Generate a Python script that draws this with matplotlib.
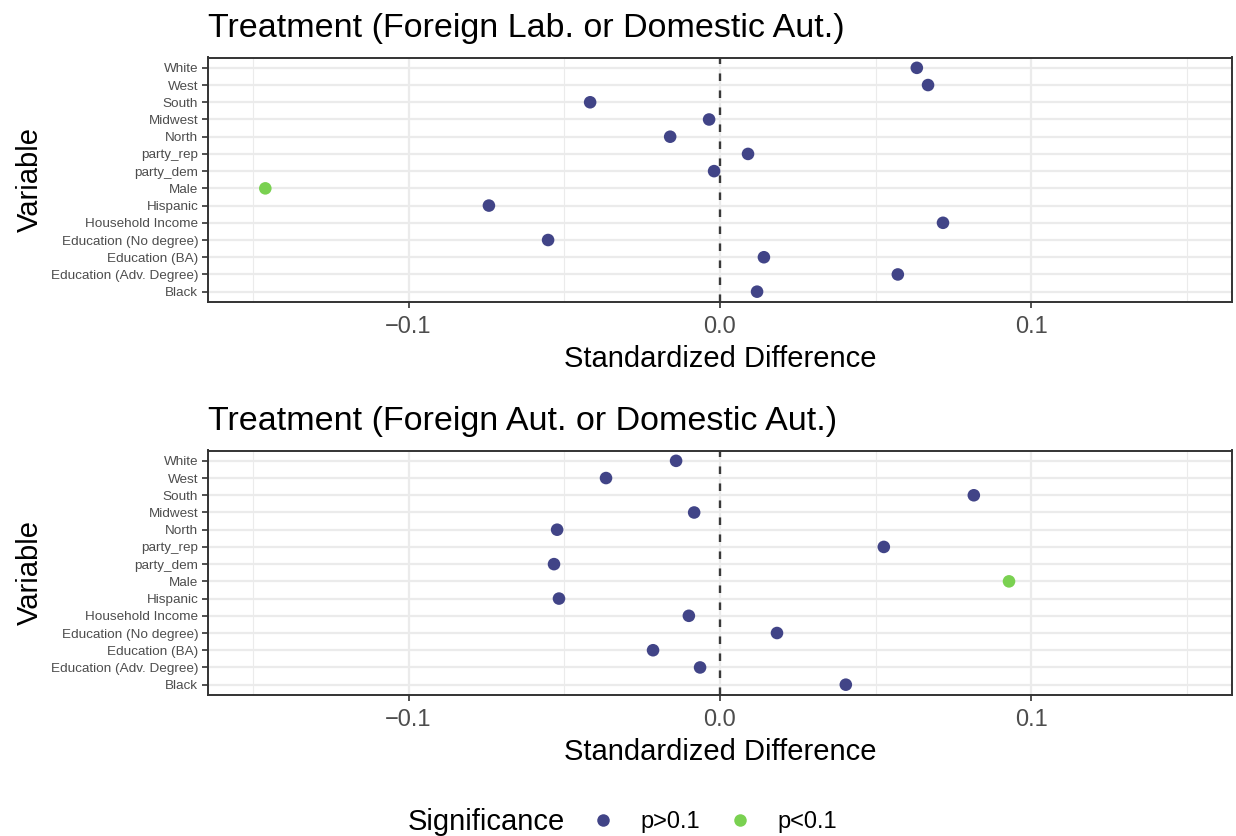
import numpy as np
import matplotlib
matplotlib.use("Agg")
import matplotlib.pyplot as plt
from matplotlib.lines import Line2D

plt.rcParams['font.family'] = ['Liberation Sans', 'DejaVu Sans']

# variabili dal basso verso l'alto
variabili = ["Black", "Education (Adv. Degree)", "Education (BA)", "Education (No degree)",
             "Household Income", "Hispanic", "Male", "party_dem", "party_rep",
             "North", "Midwest", "South", "West", "White"]

# differenze standardizzate, pannello in alto
diff_lab = [0.0119, 0.0571, 0.0141, -0.0552, 0.0716, -0.0742, -0.146, -0.0019, 0.009,
            -0.016, -0.0035, -0.0417, 0.0668, 0.0632]
sig_lab = [0, 0, 0, 0, 0, 0, 1, 0, 0, 0, 0, 0, 0, 0]

# pannello in basso
diff_aut = [0.0404, -0.0064, -0.0215, 0.0183, -0.0100, -0.0517, 0.0928, -0.0533, 0.0526,
            -0.0523, -0.0083, 0.0815, -0.0366, -0.0141]
sig_aut = [0, 0, 0, 0, 0, 0, 1, 0, 0, 0, 0, 0, 0, 0]

titoli = ["Treatment (Foreign Lab. or Domestic Aut.)", "Treatment (Foreign Aut. or Domestic Aut.)"]
etichette_sig = ["p>0.1", "p<0.1"]
colori = ["#414487", "#7AD151"]

W, H = 1236, 836
fig = plt.figure(figsize=(W / 100, H / 100), dpi=100)

def pannello(top, diffs, sigs, titolo):
    ax = fig.add_axes([208 / W, (H - top - 244.5) / H, 1024 / W, 244.5 / H])
    y = np.arange(len(variabili))
    ax.set_xlim(-0.1644, 0.1644)
    ax.set_ylim(-0.6, len(variabili) - 0.4)
    # griglia stile theme_bw
    for xv in [-0.15, -0.05, 0.05, 0.15]:
        ax.axvline(xv, color="#EBEBEB", lw=0.8, zorder=0)
    for xv in [-0.1, 0.0, 0.1]:
        ax.axvline(xv, color="#EBEBEB", lw=1.6, zorder=0)
    for yv in y:
        ax.axhline(yv, color="#EBEBEB", lw=1.6, zorder=0)
    ax.axvline(0, color="#3A3A3A", lw=1.7, ls=(0, (3.2, 4.0)), zorder=1)
    c = [colori[s] for s in sigs]
    ax.scatter(diffs, y, s=82, c=c, zorder=3, linewidths=0)
    ax.set_yticks(y)
    ax.set_yticklabels(variabili, fontsize=9.7, color="#4D4D4D")
    ax.set_xticks([-0.1, 0.0, 0.1])
    ax.set_xticklabels(["\u22120.1", "0.0", "0.1"], fontsize=17, color="#4D4D4D")
    ax.tick_params(axis="both", color="#333333", width=1.2, length=4)
    ax.tick_params(axis="y", pad=3)
    ax.tick_params(axis="x", pad=6)
    for sp in ax.spines.values():
        sp.set_color("#333333")
        sp.set_linewidth(1.4)
    ax.set_xlabel("Standardized Difference", fontsize=21, labelpad=5)
    ax.set_ylabel("Variable", fontsize=21)
    ax.yaxis.set_label_coords(-0.160, 0.5)
    ax.set_title(titolo, fontsize=24.5, loc="left", pad=15)
    return ax

pannello(57.5, diff_lab, sig_lab, titoli[0])
pannello(450.5, diff_aut, sig_aut, titoli[1])

# legenda in basso
fig.text(408 / W, 1 - 822 / H, "Significance", fontsize=21, va="center", ha="left")
maniglie = [Line2D([], [], ls="", marker="o", markersize=9, color=col, markeredgewidth=0)
            for col in colori]
fig.legend(maniglie, etichette_sig, ncol=2, frameon=False, fontsize=17,
           loc="center left", bbox_to_anchor=(570 / W, 1 - 822 / H),
           handletextpad=1.07, columnspacing=1.22, handlelength=1.0)

fig.savefig("out.png", dpi=100)
